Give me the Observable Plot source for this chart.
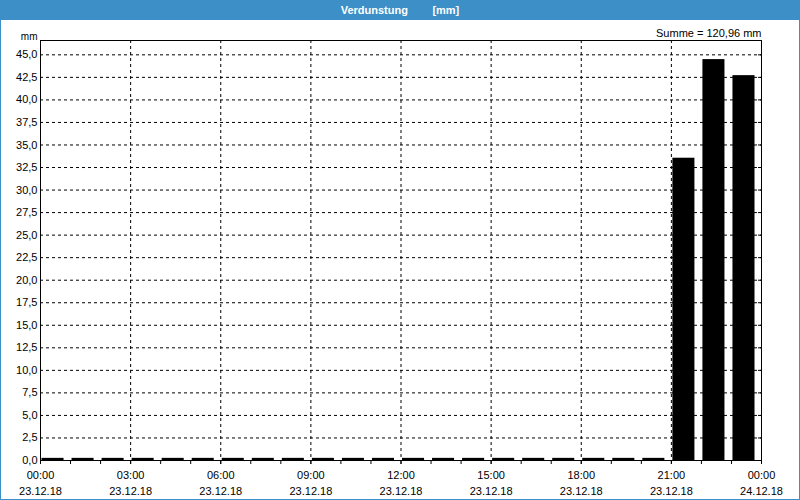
<!DOCTYPE html>
<html>
<head>
<meta charset="utf-8">
<script src="https://cdn.jsdelivr.net/npm/d3@7"></script>
<script src="https://cdn.jsdelivr.net/npm/@observablehq/plot@0.6"></script>
<style>
  html, body { margin: 0; padding: 0; background: #fff; }
  #wrap { position: relative; width: 800px; height: 500px; overflow: hidden; font-family: "Liberation Sans", Arial, sans-serif; }
  #title { position: absolute; left: 0; top: 0; width: 800px; height: 20px; background: #3c8fc7; color: #fff; font-weight: bold; font-size: 11px; line-height: 20px; text-align: center; white-space: pre; }
  #border { position: absolute; left: 0; top: 0; width: 800px; height: 500px; box-sizing: border-box; border: 1px solid #3c8fc7; pointer-events: none; }
  #chart { position: absolute; left: 0; top: 20px; }
</style>
</head>
<body>
<div id="wrap">
  <div id="title">Verdunstung        [mm]</div>
  <div id="chart"></div>
  <div id="border"></div>
</div>
<script>
// Hour of day at which each bar starts (23.12.18)
const hours = [0,1,2,3,4,5,6,7,8,9,10,11,12,13,14,15,16,17,18,19,20,21,22,23];
// Verdunstung per hour [mm]
const values = [0.016,0.016,0.016,0.016,0.016,0.016,0.016,0.016,0.016,0.016,0.016,0.016,
                0.016,0.016,0.016,0.016,0.016,0.016,0.016,0.016,0.016,33.31,44.25,42.47];
// y tick values and x tick positions
const yTicks = [0,2.5,5,7.5,10,12.5,15,17.5,20,22.5,25,27.5,30,32.5,35,37.5,40,42.5,45];
const xLabelTicks = [0,3,6,9,12,15,18,21,24];
const xTimeLabels = ["00:00","03:00","06:00","09:00","12:00","15:00","18:00","21:00","00:00"];
const xDateLabels = ["23.12.18","23.12.18","23.12.18","23.12.18","23.12.18","23.12.18","23.12.18","23.12.18","24.12.18"];
const xMinorTicks = [0,1,2,3,4,5,6,7,8,9,10,11,12,13,14,15,16,17,18,19,20,21,22,23,24];
const sumText = "Summe = 120,96 mm";
const unitText = "mm";

const data = hours.map((h, i) => ({start: h, end: h + 1, value: values[i]}));
const fmtY = d => d3.format(".1f")(d).replace(".", ",");

const chart = Plot.plot({
  width: 800,
  height: 480,
  marginTop: 20,
  marginBottom: 40,
  marginLeft: 40,
  marginRight: 39,
  style: {fontFamily: "'Liberation Sans', Arial, sans-serif", fontSize: "11px", color: "#000", background: "transparent"},
  x: {domain: [0, 24]},
  y: {domain: [0, 46.59]},
  marks: [
    Plot.gridX(xLabelTicks.slice(1, -1), {stroke: "#000", strokeOpacity: 1, strokeDasharray: "3,3"}),
    Plot.gridY(yTicks.slice(1), {stroke: "#000", strokeOpacity: 1, strokeDasharray: "3,3"}),
    Plot.rectY(data, {x1: "start", x2: "end", y: "value", fill: "#000", insetLeft: 1.5, insetRight: 6.5, insetTop: -2}),
    Plot.axisY(yTicks, {anchor: "left", tickSize: 0, tickPadding: 3, tickFormat: fmtY, label: null, fontSize: 11}),
    Plot.axisY(yTicks, {anchor: "right", tickSize: -4, tickFormat: () => "", label: null}),
    Plot.axisX(xMinorTicks, {anchor: "bottom", tickSize: 4, tickFormat: () => "", label: null}),
    Plot.axisX(xLabelTicks, {anchor: "bottom", tickSize: 4, tickPadding: 7, tickFormat: (d, i) => xTimeLabels[i], label: null, fontSize: 11}),
    Plot.axisX(xLabelTicks, {anchor: "bottom", tickSize: 0, tickPadding: 27, tickFormat: (d, i) => xDateLabels[i], label: null, fontSize: 11}),
    Plot.frame({stroke: "#000"}),
    Plot.text([unitText], {frameAnchor: "top-left", dx: -3, dy: -1, textAnchor: "end", lineAnchor: "bottom", fontSize: 10}),
    Plot.text([sumText], {frameAnchor: "top-right", dy: -4, textAnchor: "end", lineAnchor: "bottom", fontSize: 11})
  ]
});
document.getElementById("chart").appendChild(chart);
</script>
</body>
</html>
